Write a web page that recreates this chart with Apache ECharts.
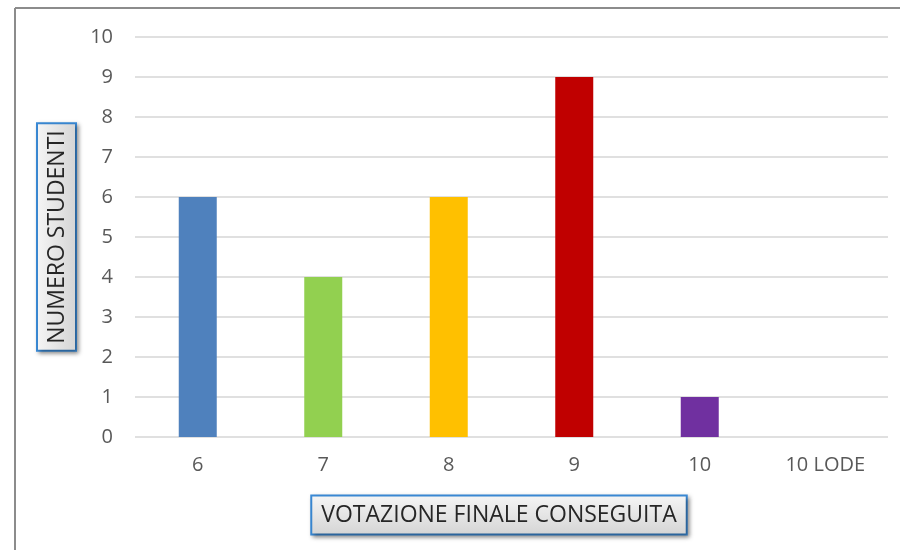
<!DOCTYPE html>
<html><head><meta charset="utf-8">
<script src="https://cdn.jsdelivr.net/npm/echarts@6/dist/echarts.min.js"></script>
<style>html,body{margin:0;padding:0;background:#fff}#c{width:900px;height:550px}</style>
</head><body><div id="c"></div>
<script>
var categories = ['6', '7', '8', '9', '10', '10 LODE'];
var values = [6, 4, 6, 9, 1, 0];
var barColors = ['#4f81bd', '#92d050', '#ffc000', '#c00000', '#7030a0', '#4f81bd'];
var yTicks = {min: 0, max: 10, interval: 1};
var xTitle = 'VOTAZIONE FINALE CONSEGUITA';
var yTitle = 'NUMERO STUDENTI';

var chart = echarts.init(document.getElementById('c'), null, {renderer: 'canvas'});
var boxBg = {type: 'linear', x: 0, y: 0, x2: 0, y2: 1, colorStops: [{offset: 0, color: '#f6f6f6'}, {offset: 1, color: '#d4d4d4'}]};
chart.setOption({
  animation: false,
  backgroundColor: '#fff',
  grid: {left: 135, right: 12, top: 37, bottom: 113, outerBoundsMode: 'none', containLabel: false},
  xAxis: {
    type: 'category', data: categories,
    axisLine: {show: false}, axisTick: {show: false},
    axisLabel: {color: '#595959', fontSize: 20, fontFamily: 'Open Sans', margin: 18}
  },
  yAxis: {
    type: 'value', min: yTicks.min, max: yTicks.max, interval: yTicks.interval,
    axisLine: {show: false}, axisTick: {show: false},
    splitLine: {lineStyle: {color: '#d6d6d6', width: 1.5}},
    axisLabel: {color: '#595959', fontSize: 20, fontFamily: 'Open Sans', margin: 22},
    name: yTitle, nameLocation: 'middle', nameGap: 60, nameRotate: 90,
    nameTextStyle: {color: '#262626', fontSize: 23, fontFamily: 'Open Sans', backgroundColor: boxBg,
      borderColor: '#3a8ad6', borderWidth: 2, padding: [8, 6, 6, 6],
      shadowColor: 'rgba(0,0,0,0.35)', shadowBlur: 4, shadowOffsetX: 2, shadowOffsetY: 2}
  },
  series: [{
    type: 'bar', barWidth: 38,
    data: values.map(function (v, i) { return {value: v, itemStyle: {color: barColors[i]}}; })
  }],
  graphic: [
    {type: 'line', shape: {x1: 15, y1: 8, x2: 900, y2: 8}, style: {stroke: '#8c8c8c', lineWidth: 2}},
    {type: 'line', shape: {x1: 15, y1: 8, x2: 15, y2: 550}, style: {stroke: '#8c8c8c', lineWidth: 2}},
    {type: 'text', x: 499, y: 515, z: 10,
      style: {text: xTitle, align: 'center', verticalAlign: 'middle',
        fill: '#262626', fontSize: 23, fontFamily: 'Open Sans', backgroundColor: boxBg,
        borderColor: '#3a8ad6', borderWidth: 2, padding: [8, 9, 6, 9],
        shadowColor: 'rgba(0,0,0,0.35)', shadowBlur: 4, shadowOffsetX: 2, shadowOffsetY: 2}}
  ]
});
</script></body></html>
